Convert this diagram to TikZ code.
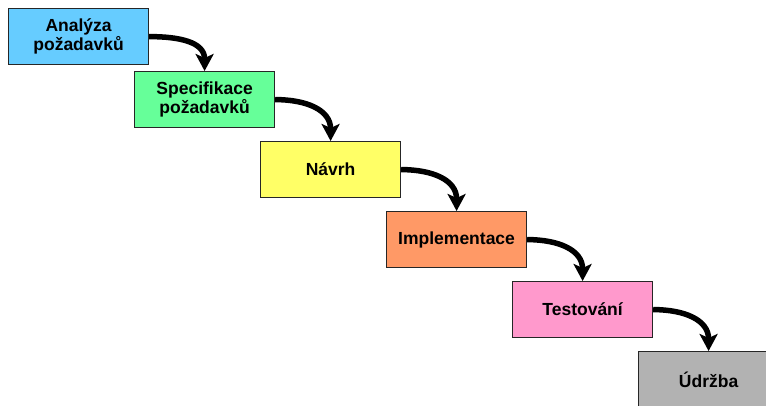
\documentclass[tikz,border=0pt]{standalone}
\usepackage{fontspec}
\setmainfont{Liberation Sans}
\usetikzlibrary{arrows.meta}
\definecolor{cA}{HTML}{66CCFF}
\definecolor{cB}{HTML}{66FF99}
\definecolor{cC}{HTML}{FFFF66}
\definecolor{cD}{HTML}{FF9966}
\definecolor{cE}{HTML}{FF99CC}
\definecolor{cF}{HTML}{B2B2B2}
\tikzset{
  phase/.style={draw=black!85, line width=1.2pt, anchor=north west,
    minimum width=140pt, minimum height=56pt, inner sep=2pt, align=center,
    font=\fontsize{17.5}{18.5}\selectfont\bfseries},
  flow/.style={line width=5.5pt, black,
    -{Stealth[length=17pt,width=18pt,inset=4pt]}, out=0, in=90, looseness=1.15}
}
\begin{document}
\begin{tikzpicture}[x=1pt,y=-1pt]
\useasboundingbox (0,0) rectangle (766,406);
\clip (0,0) rectangle (766,406);
\node[phase, fill=cA] (a) at (8,8) {Analýza\\požadavků};
\node[phase, fill=cB] (b) at (134,71) {Specifikace\\požadavků};
\node[phase, fill=cC] (c) at (260,141) {Návrh};
\node[phase, fill=cD] (d) at (386,211) {Implementace};
\node[phase, fill=cE] (e) at (512,281) {Testování};
\node[phase, fill=cF] (f) at (638,351) {Údržba};
\draw[flow] (a.east) to (b.north);
\draw[flow] (b.east) to (c.north);
\draw[flow] (c.east) to (d.north);
\draw[flow] (d.east) to (e.north);
\draw[flow] (e.east) to (f.north);
\end{tikzpicture}
\end{document}
